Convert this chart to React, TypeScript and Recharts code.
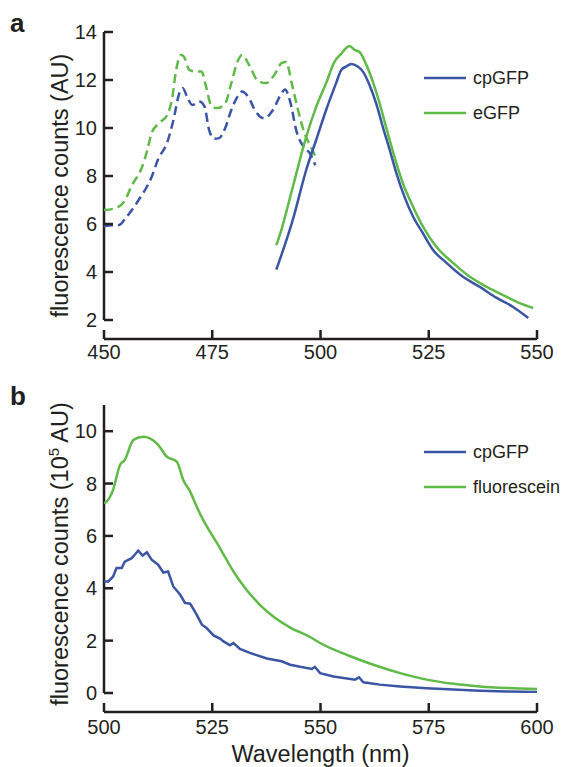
import { LineChart, Line, XAxis, YAxis, Legend, ReferenceLine } from 'recharts';

const FONT = '"Liberation Sans", Arial, sans-serif';
const INK = '#231f20';
const BLUE = '#3b55a5';
const GREEN = '#5fba47';

// panel a: excitation (dashed) and emission (solid), wavelength in nm
const exCpNm = [450, 452, 453.5, 455, 458, 461, 462.5, 464.6, 466, 467.4, 468.2, 469.2, 470.4, 472, 473.2, 474.3, 475.5, 476.6, 478, 479.4, 480.8, 481.9, 483.3, 485, 487, 489, 490.8, 491.8, 493, 494.4, 496.3, 497.5, 498.8];
const exCp = [5.92, 5.95, 5.96, 6.25, 7.0, 7.96, 8.7, 9.4, 10.3, 11.45, 11.66, 11.3, 10.96, 11.1, 10.9, 9.9, 9.55, 9.58, 10.0, 10.75, 11.3, 11.52, 11.3, 10.7, 10.4, 10.75, 11.38, 11.6, 11.1, 9.9, 9.17, 8.96, 8.45];

const exEgNm = [450, 452.8, 454.6, 456.5, 458.8, 460, 461, 462.7, 464.6, 465.8, 466.6, 467.8, 468.5, 469.7, 471.2, 472.5, 473.6, 474.7, 476, 477.8, 479.4, 480.8, 481.9, 483.5, 485.4, 487.4, 489.3, 491, 492.1, 493.3, 494.7, 496.3, 497.9, 499];
const exEg = [6.58, 6.67, 6.92, 7.63, 8.38, 9.08, 9.79, 10.2, 10.54, 11.3, 12.35, 13.04, 12.96, 12.42, 12.35, 12.35, 11.7, 10.96, 10.83, 10.96, 11.87, 12.75, 13.04, 12.63, 12.0, 11.87, 12.2, 12.7, 12.75, 11.9, 10.83, 9.79, 9.17, 8.75];

const emCpNm = [489.8, 493.6, 496.7, 499, 501.3, 503.6, 504.8, 505.9, 507.1, 508.6, 509.8, 511.3, 512.9, 514.4, 516, 517.5, 519.4, 521.4, 523.7, 526, 529.1, 532.9, 536.8, 540.7, 544.5, 548];
const emCp = [4.1, 6.17, 8.25, 9.5, 10.75, 11.87, 12.42, 12.56, 12.67, 12.56, 12.35, 11.8, 11.0, 10.04, 9.08, 8.13, 7.13, 6.3, 5.6, 4.92, 4.38, 3.8, 3.38, 2.92, 2.54, 2.08];

const emEgNm = [489.8, 490.7, 493.6, 496.7, 499, 501.3, 503.2, 504.8, 506.7, 507.9, 509, 510.6, 512.1, 513.7, 515.2, 517.1, 519, 521.4, 523.7, 526.8, 530.6, 534.5, 538.4, 543, 546, 549.1];
const emEg = [5.12, 5.6, 7.54, 9.63, 10.88, 11.87, 12.75, 13.1, 13.42, 13.25, 13.17, 12.63, 11.92, 11.0, 10.0, 8.79, 7.71, 6.71, 5.88, 5.04, 4.38, 3.8, 3.38, 2.96, 2.7, 2.5];

// panel b: emission, 10^5 AU
const bFlNm = [500, 500.6, 502.1, 503.7, 504.8, 506.8, 509.1, 510.6, 512.5, 514.5, 516.8, 518.3, 519.9, 521.4, 522.9, 524.5, 526, 527.9, 529.9, 532.9, 536, 539.1, 543, 547.6, 549.9, 556, 562.2, 568.4, 574.5, 580.7, 586.8, 593, 600];
const bFl = [7.25, 7.31, 7.76, 8.71, 8.9, 9.67, 9.79, 9.73, 9.48, 9.03, 8.84, 8.14, 7.69, 7.12, 6.61, 6.15, 5.75, 5.21, 4.64, 3.94, 3.37, 2.92, 2.5, 2.14, 1.91, 1.46, 1.08, 0.76, 0.51, 0.35, 0.25, 0.19, 0.15];

const bCpNm = [500, 501, 502.1, 502.9, 504.1, 504.8, 506.4, 507.1, 507.9, 508.9, 509.9, 511, 512.5, 513.7, 514.8, 516, 517.6, 518.7, 519.9, 521.4, 522.6, 523.7, 525.3, 526.8, 527.6, 529.1, 529.9, 531.4, 533.7, 537.6, 541, 543, 545.3, 548, 548.7, 549.9, 553, 558, 558.9, 559.9, 563.7, 568.4, 574.5, 580.7, 586.8, 593, 600];
const bCp = [4.26, 4.26, 4.45, 4.77, 4.77, 5.02, 5.15, 5.28, 5.44, 5.25, 5.37, 5.09, 4.9, 4.6, 4.64, 4.07, 3.75, 3.44, 3.41, 2.99, 2.61, 2.48, 2.2, 2.08, 1.97, 1.82, 1.91, 1.68, 1.53, 1.32, 1.21, 1.08, 1.0, 0.92, 1.0, 0.76, 0.63, 0.51, 0.6, 0.41, 0.32, 0.25, 0.18, 0.13, 0.09, 0.06, 0.04];

const aTicksX = [450, 475, 500, 525, 550];
const aTicksY = [2, 4, 6, 8, 10, 12, 14];
const bTicksX = [500, 525, 550, 575, 600];
const bTicksY = [0, 2, 4, 6, 8, 10];

const zip = (xs: number[], ys: number[]) => xs.map((nm, i) => ({ nm, v: ys[i] }));

const tickStyle = { fill: INK, fontSize: 20, fontFamily: FONT };
const axisStroke = { stroke: INK, strokeWidth: 2.5 };

function LegendBox({ payload }: any) {
  // only the solid emission lines go in the key
  const items = (payload || []).filter((p: any) => p.type !== 'none' && p.value !== 'excitation');
  return (
    <div style={{ fontFamily: FONT, fontSize: 18, color: INK }}>
      {items.map((p: any) => (
        <div key={p.value} style={{ display: 'flex', alignItems: 'center', height: 35 }}>
          <svg width={42} height={4} style={{ display: 'block' }}>
            <line x1={0} y1={2} x2={42} y2={2} stroke={p.color} strokeWidth={2.5} />
          </svg>
          <span style={{ marginLeft: 7, lineHeight: '18px' }}>{p.value}</span>
        </div>
      ))}
    </div>
  );
}

// rotated y title, baseline placed 68px from the left of the axis box
const yTitle = (sup: boolean, dy: number) => (props: any) => {
  const vb = props.viewBox;
  const x = vb.x + 68;
  const y = vb.y + vb.height / 2 + dy;
  return (
    <text x={x} y={y} transform={`rotate(-90 ${x} ${y})`} textAnchor="middle" fill={INK} fontSize={23.5} fontFamily={FONT}>
      {sup ? (
        <>
          fluorescence counts (10<tspan fontSize={15} dy={-9}>5</tspan><tspan dy={9}> AU)</tspan>
        </>
      ) : (
        'fluorescence counts (AU)'
      )}
    </text>
  );
};

export default function App() {
  return (
    <div style={{ position: 'absolute', left: 0, top: 0, width: 565, height: 767, background: '#fff' }}>
      <div style={{ position: 'absolute', left: 0, top: 0 }}>
        <LineChart width={565} height={380} margin={{ top: 32, right: 28, left: 0, bottom: 0 }}>
          <XAxis type="number" dataKey="nm" domain={[450, 550]} ticks={aTicksX} allowDataOverflow
            height={41} tickSize={-9} tickMargin={15} tick={tickStyle} axisLine={axisStroke} tickLine={axisStroke} />
          <YAxis type="number" domain={[2, 14]} ticks={aTicksY} allowDataOverflow width={104}
            padding={{ top: 0, bottom: 19 }} tickSize={-9} tickMargin={16} tick={tickStyle}
            axisLine={false} tickLine={axisStroke} label={{ content: yTitle(false, 0) }} />
          <ReferenceLine segment={[{ x: 450, y: 2 }, { x: 450, y: 14 }]} stroke={INK} strokeWidth={2.5} ifOverflow="visible" />
          <Line data={zip(exCpNm, exCp)} dataKey="v" name="excitation" type="monotone" stroke={BLUE} strokeWidth={2.5} strokeDasharray="9 5" dot={false} legendType="none" isAnimationActive={false} />
          <Line data={zip(exEgNm, exEg)} dataKey="v" name="excitation" type="monotone" stroke={GREEN} strokeWidth={2.5} strokeDasharray="9 5" dot={false} legendType="none" isAnimationActive={false} />
          <Line data={zip(emCpNm, emCp)} dataKey="v" name="cpGFP" type="monotone" stroke={BLUE} strokeWidth={2.5} dot={false} isAnimationActive={false} />
          <Line data={zip(emEgNm, emEg)} dataKey="v" name="eGFP" type="monotone" stroke={GREEN} strokeWidth={2.5} dot={false} isAnimationActive={false} />
          <Legend layout="horizontal" verticalAlign="middle" align="center" content={<LegendBox />}
            wrapperStyle={{ left: 424, top: 60.5, width: 141 }} />
        </LineChart>
      </div>
      <div style={{ position: 'absolute', left: 0, top: 380 }}>
        <LineChart width={565} height={387} margin={{ top: 25, right: 28, left: 0, bottom: 0 }}>
          <XAxis type="number" dataKey="nm" domain={[500, 600]} ticks={bTicksX} allowDataOverflow
            height={55} tickSize={-9} tickMargin={17} tick={tickStyle} axisLine={axisStroke} tickLine={axisStroke}
            label={{ value: 'Wavelength (nm)', position: 'insideBottom', offset: 5, fill: INK, fontSize: 23.5, fontFamily: FONT }} />
          <YAxis type="number" domain={[0, 11]} ticks={bTicksY} allowDataOverflow width={104}
            padding={{ top: 0, bottom: 19 }} tickSize={-9} tickMargin={16} tick={tickStyle}
            axisLine={false} tickLine={axisStroke} label={{ content: yTitle(true, -4.5) }} />
          <ReferenceLine segment={[{ x: 500, y: 0 }, { x: 500, y: 11 }]} stroke={INK} strokeWidth={2.5} ifOverflow="visible" />
          <Line data={zip(bCpNm, bCp)} dataKey="v" name="cpGFP" type="linear" stroke={BLUE} strokeWidth={2.5} dot={false} isAnimationActive={false} />
          <Line data={zip(bFlNm, bFl)} dataKey="v" name="fluorescein" type="monotone" stroke={GREEN} strokeWidth={2.5} dot={false} isAnimationActive={false} />
          <Legend layout="horizontal" verticalAlign="middle" align="center" content={<LegendBox />}
            wrapperStyle={{ left: 424, top: 54.5, width: 141 }} />
        </LineChart>
      </div>
      <svg width={565} height={767} style={{ position: 'absolute', left: 0, top: 0, pointerEvents: 'none' }}>
        <text x={10} y={32} fontSize={26} fontWeight="bold" fontFamily={FONT} fill={INK}>a</text>
        <text x={10} y={405} fontSize={26} fontWeight="bold" fontFamily={FONT} fill={INK}>b</text>
      </svg>
    </div>
  );
}
